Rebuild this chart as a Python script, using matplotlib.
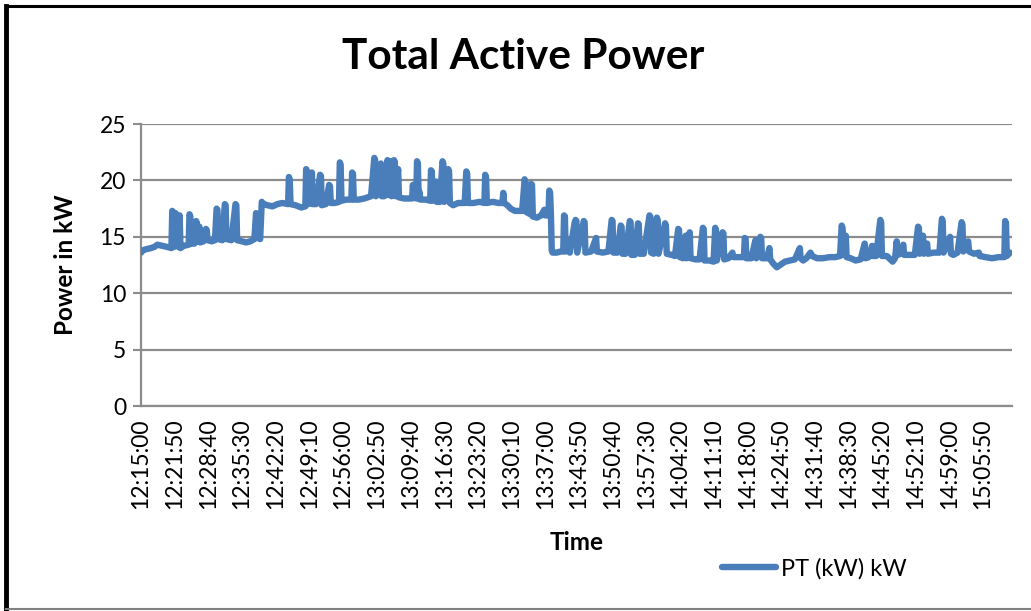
import matplotlib
matplotlib.use("Agg")
import matplotlib.pyplot as plt
from matplotlib.lines import Line2D

# readings: seconds after 12:15:00 and power in kW
t_rise = [0, 20, 60, 120, 160, 200, 260, 320, 370,
          380, 390, 400, 420, 430, 460, 470, 480,
          520, 580, 590, 600, 610,
          650, 670, 680, 690, 710, 720, 760,
          790, 800, 810, 860, 900,
          920, 930, 940, 990,
          1020, 1030, 1040, 1100,
          1150, 1160, 1170, 1230, 1280, 1330, 1380,
          1400, 1410, 1420, 1450]
v_rise = [13.6, 13.8, 13.9, 14.0, 14.1, 14.3, 14.2, 14.1, 14.0,
          17.3, 17.2, 14.1, 17.1, 14.2, 14.1, 16.9, 14.0,
          14.2, 14.3, 17.0, 16.8, 14.4,
          14.4, 16.4, 16.2, 14.6, 15.9, 14.5, 14.6,
          15.7, 15.6, 14.7, 14.6, 14.7,
          17.5, 17.4, 14.8, 14.7,
          17.9, 17.8, 14.8, 14.7,
          17.9, 17.8, 14.7, 14.6, 14.5, 14.6, 14.8,
          17.1, 16.8, 14.9, 14.8]

t_high = [1470, 1490, 1540, 1600, 1660, 1720, 1790,
          1800, 1810, 1820, 1880, 1950, 2000,
          2010, 2020, 2030, 2070, 2080, 2090, 2130,
          2180, 2190, 2200, 2250,
          2290, 2300, 2310, 2360, 2410,
          2420, 2430, 2440, 2500, 2560,
          2570, 2580, 2590, 2650, 2720, 2800,
          2840, 2850, 2860, 2920, 2930, 2960,
          3000, 3010, 3040, 3050, 3080, 3090, 3100,
          3130, 3140, 3200, 3260, 3300,
          3310, 3320, 3350, 3360, 3370, 3380, 3390, 3400, 3470, 3520,
          3530, 3540, 3550, 3590, 3600, 3640,
          3670, 3680, 3690, 3740, 3750, 3760, 3800, 3860, 3940,
          3960, 3970, 3980, 4050, 4120, 4180,
          4190, 4200, 4210, 4280, 4350, 4400,
          4410, 4420, 4460, 4500, 4550, 4640,
          4670, 4680, 4690, 4740, 4750, 4760, 4770,
          4820, 4870, 4910, 4920, 4960,
          4970, 4980, 4990, 5000]
v_high = [18.1, 17.9, 17.8, 17.7, 17.9, 18.0, 17.9,
          20.3, 20.1, 17.9, 17.8, 17.6, 17.7,
          21.0, 20.8, 17.9, 18.0, 20.7, 17.9, 17.9,
          20.5, 20.4, 17.8, 17.9,
          19.6, 19.5, 18.0, 18.0, 18.1,
          21.6, 21.4, 18.2, 18.3, 18.3,
          20.7, 20.6, 18.3, 18.3, 18.4, 18.6,
          22.0, 21.8, 18.6, 21.5, 18.6, 18.6,
          21.8, 18.7, 21.7, 18.6, 21.8, 21.6, 18.6,
          21.0, 18.5, 18.4, 18.4, 18.4,
          19.6, 18.5, 18.4, 21.7, 21.5, 18.4, 19.0, 18.3, 18.3, 18.2,
          20.9, 20.8, 18.2, 19.9, 18.1, 18.1,
          21.7, 21.5, 18.1, 21.0, 20.8, 18.0, 17.8, 18.0, 18.0,
          20.8, 20.6, 18.0, 18.0, 18.1, 18.0,
          20.5, 20.3, 18.0, 18.1, 18.0, 18.0,
          18.9, 18.0, 17.8, 17.5, 17.3, 17.3,
          20.1, 19.9, 17.2, 17.0, 19.7, 19.6, 16.8,
          16.7, 16.9, 17.4, 16.9, 16.9,
          19.1, 18.9, 17.0, 13.8]

t_low = [5010, 5060, 5110, 5140,
         5150, 5160, 5170, 5210, 5220,
         5280, 5290, 5300, 5310, 5390, 5400, 5410,
         5480, 5540, 5550, 5620, 5690,
         5730, 5740, 5750, 5800, 5840, 5850, 5860,
         5900, 5950, 5960, 5970, 6010, 6050, 6060, 6070,
         6120, 6190, 6200, 6210, 6240, 6280, 6290, 6300,
         6380, 6390, 6400, 6460, 6500,
         6540, 6550, 6560, 6600, 6630, 6640, 6680, 6690,
         6750, 6800, 6840, 6850, 6860, 6920, 6970,
         6990, 7000, 7010, 7080, 7090, 7100, 7150,
         7200, 7210, 7280, 7340,
         7350, 7360, 7370, 7430, 7480, 7490, 7540, 7550, 7560, 7620,
         7650, 7660, 7700, 7740, 7780, 7840, 7900, 7960,
         8020, 8030, 8060, 8100, 8150, 8170, 8230, 8300, 8380, 8450, 8510,
         8530, 8540, 8560, 8580, 8590, 8640, 8700, 8760,
         8810, 8820, 8860, 8900, 8910, 8950,
         9000, 9010, 9020, 9080, 9150, 9180,
         9200, 9210, 9250, 9280, 9290, 9350, 9420,
         9460, 9470, 9480, 9520, 9530, 9570, 9580, 9650, 9720,
         9750, 9760, 9770, 9850, 9860, 9890, 9940,
         9990, 10000, 10010, 10070, 10080, 10140, 10200, 10210,
         10280, 10360, 10440, 10510,
         10520, 10530, 10540, 10580]
v_low = [13.6, 13.6, 13.7, 13.7,
         16.9, 16.8, 13.7, 14.7, 13.6,
         16.3, 16.5, 16.4, 13.6, 16.4, 16.3, 13.6,
         13.7, 14.9, 13.7, 13.6, 13.7,
         16.5, 16.4, 13.6, 13.6, 16.0, 15.9, 13.5,
         13.5, 16.4, 16.3, 13.4, 13.4, 16.2, 16.1, 13.5,
         13.5, 16.9, 16.8, 13.6, 13.5, 16.7, 16.5, 13.5,
         16.2, 16.0, 13.5, 13.4, 13.3,
         15.7, 15.6, 13.2, 13.1, 15.1, 13.1, 15.4, 13.1,
         13.0, 13.0, 15.8, 15.7, 12.9, 12.9, 12.8,
         15.8, 15.6, 12.9, 15.4, 15.3, 13.0, 13.1,
         13.6, 13.2, 13.2, 13.2,
         14.9, 14.8, 13.1, 13.1, 14.7, 13.1, 15.0, 14.9, 13.1, 13.1,
         14.0, 13.0, 12.6, 12.3, 12.5, 12.8, 12.9, 13.0,
         14.0, 13.1, 12.9, 13.1, 13.6, 13.3, 13.1, 13.1, 13.2, 13.2, 13.3,
         16.0, 15.8, 13.4, 15.1, 13.2, 13.1, 12.9, 13.0,
         14.4, 13.1, 13.2, 14.2, 13.3, 13.3,
         16.5, 16.3, 13.3, 13.3, 12.8, 13.1,
         14.6, 13.4, 13.5, 14.3, 13.4, 13.4, 13.4,
         15.9, 15.8, 13.5, 15.1, 13.5, 14.4, 13.5, 13.6, 13.6,
         16.6, 16.4, 13.6, 15.0, 13.5, 13.4, 13.6,
         16.3, 16.1, 13.7, 14.6, 13.7, 13.5, 13.6, 13.3,
         13.2, 13.1, 13.2, 13.2,
         16.4, 16.2, 13.3, 13.6]

tick_labels = ["12:15:00", "12:21:50", "12:28:40", "12:35:30", "12:42:20",
               "12:49:10", "12:56:00", "13:02:50", "13:09:40", "13:16:30",
               "13:23:20", "13:30:10", "13:37:00", "13:43:50", "13:50:40",
               "13:57:30", "14:04:20", "14:11:10", "14:18:00", "14:24:50",
               "14:31:40", "14:38:30", "14:45:20", "14:52:10", "14:59:00",
               "15:05:50"]
TICK_STEP = 410
Y_TICKS = [0, 5, 10, 15, 20, 25]

LINE_COLOR = "#4a7ebb"
GRID_COLOR = "#8c8c8c"
FONT = ["Lato", "DejaVu Sans"]

plt.rcParams['font.family'] = FONT

t_all = t_rise + t_high + t_low
v_all = v_rise + v_high + v_low

fig = plt.figure(figsize=(10.31, 6.11), dpi=100)
ax = fig.add_axes([0.1368, 0.3355, 0.9813 - 0.1368, 0.797 - 0.3355])

ax.plot(t_all, v_all, color=LINE_COLOR, lw=4.6, solid_joinstyle="round",
        solid_capstyle="round", zorder=3)

ax.set_xlim(0, 10600)
ax.set_ylim(0, 25)
ax.set_yticks(Y_TICKS)
ax.set_xticks([i * TICK_STEP for i in range(len(tick_labels))])
ax.set_xticklabels(tick_labels, rotation=90, fontsize=16.5)
ax.tick_params(axis="y", labelsize=16.5, length=5.8, width=1.5, color=GRID_COLOR, pad=5)
ax.tick_params(axis="x", length=0, pad=9)
ax.yaxis.grid(True, color=GRID_COLOR, lw=1.6)
ax.set_axisbelow(True)

for side in ["top", "right"]:
    ax.spines[side].set_visible(False)
ax.spines["left"].set_color(GRID_COLOR)
ax.spines["bottom"].set_color(GRID_COLOR)
ax.spines["left"].set_linewidth(1.6)
ax.spines["bottom"].set_linewidth(1.6)

ax.set_ylabel("Power in kW", fontsize=17.5, fontweight="bold")
ax.yaxis.set_label_coords(-0.074, 0.5)
fig.text(0.5596, 1 - 543 / 611, "Time", fontsize=17.5, fontweight="bold",
         ha="center", va="center")
fig.text(0.5073, 1 - 57 / 611, "Total Active Power", fontsize=30.5,
         fontweight="bold", ha="center", va="center")

handle = Line2D([0], [0], color=LINE_COLOR, lw=4.6, solid_capstyle="round")
fig.legend([handle], ["PT (kW) kW"], loc="center left",
           bbox_to_anchor=(0.7003, 1 - 569 / 611), frameon=False, fontsize=17,
           handlelength=2.3, handletextpad=0.2, borderpad=0, borderaxespad=0)

# outer chart border
fig.add_artist(Line2D([0.0058, 0.0058], [0, 0.99], color="black", lw=3.5))
fig.add_artist(Line2D([0.0058, 1], [0.9902, 0.9902], color="black", lw=2.2))
fig.add_artist(Line2D([0.0058, 1], [0.0025, 0.0025], color="#808080", lw=1.5))

fig.savefig("out.png", dpi=100)
